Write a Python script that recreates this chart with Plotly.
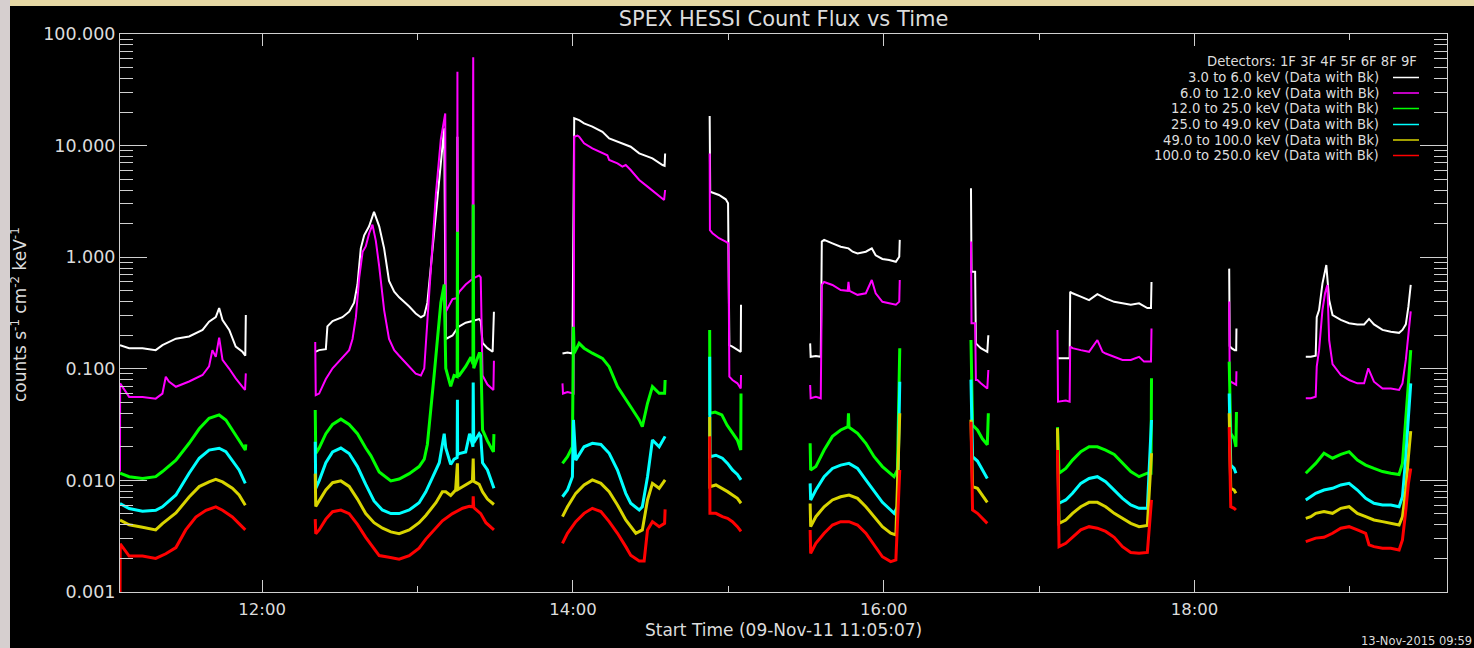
import plotly.graph_objects as go

DATE = "2011-11-09"

# ---- data (time HH:MM:SS, counts s^-1 cm^-2 keV^-1); one inner list per data interval
WHITE = [
    [("11:05:07", 0.163), ("11:08:39", 0.153), ("11:13:48", 0.153), ("11:18:54", 0.147), ("11:21:30", 0.163),
     ("11:26:42", 0.186), ("11:31:48", 0.195), ("11:37:00", 0.223), ("11:39:30", 0.264), ("11:42:06", 0.29),
     ("11:43:24", 0.35), ("11:44:42", 0.274), ("11:47:18", 0.223), ("11:49:48", 0.158), ("11:52:24", 0.142),
     ("11:53:30", 0.131), ("11:53:42", 0.303)],
    [("12:20:30", 0.142), ("12:22:00", 0.147), ("12:24:36", 0.150), ("12:25:12", 0.240), ("12:27:12", 0.268),
     ("12:31:00", 0.290), ("12:33:36", 0.325), ("12:35:30", 0.391), ("12:36:48", 0.569), ("12:38:06", 1.20),
     ("12:39:24", 1.57), ("12:41:18", 1.89), ("12:43:12", 2.55), ("12:45:12", 1.89), ("12:47:06", 1.20),
     ("12:49:00", 0.613), ("12:51:00", 0.490), ("12:52:54", 0.437), ("12:56:48", 0.362), ("12:59:18", 0.313),
     ("13:01:18", 0.290), ("13:02:36", 0.301), ("13:03:48", 0.391), ("13:05:06", 0.828), ("13:07:06", 2.55),
     ("13:09:00", 7.85), ("13:10:18", 14.3), ("13:10:54", 0.185), ("13:13:30", 0.199), ("13:15:18", 0.23),
     ("13:15:24", 12.0), ("13:15:30", 0.235), ("13:16:06", 0.240), ("13:18:36", 0.259), ("13:21:12", 0.268),
     ("13:23:48", 0.279), ("13:24:24", 0.268), ("13:25:06", 0.171), ("13:27:00", 0.153), ("13:29:00", 0.142),
     ("13:29:30", 0.325)],
    [("13:55:58", 0.137), ("13:57:54", 0.14), ("13:59:48", 0.137), ("14:00:30", 17.6), ("14:02:24", 16.9),
     ("14:04:18", 15.8), ("14:07:30", 14.8), ("14:11:24", 13.3), ("14:14:00", 11.6), ("14:17:12", 10.8),
     ("14:20:24", 10.1), ("14:22:18", 9.77), ("14:25:36", 8.53), ("14:30:42", 7.69), ("14:34:36", 6.70),
     ("14:35:24", 6.6), ("14:35:36", 8.5)],
    [("14:52:48", 18.4), ("14:53:00", 3.86), ("14:56:24", 3.61), ("14:59:00", 3.3), ("14:59:54", 3.04),
     ("15:00:24", 0.163), ("15:01:36", 0.158), ("15:03:30", 0.147), ("15:04:48", 0.142), ("15:04:54", 0.375)],
    [("15:31:36", 0.169), ("15:31:48", 0.128), ("15:33:48", 0.13), ("15:35:42", 0.128), ("15:36:06", 1.38),
     ("15:37:00", 1.43), ("15:40:12", 1.33), ("15:43:24", 1.24), ("15:46:24", 1.20), ("15:48:00", 1.12),
     ("15:49:54", 1.08), ("15:53:06", 1.12), ("15:55:24", 1.20), ("15:56:54", 1.04), ("15:59:30", 0.964),
     ("16:02:06", 0.944), ("16:04:42", 0.91), ("16:06:00", 1.01), ("16:06:12", 1.43)],
    [("16:33:42", 4.14), ("16:33:54", 0.741), ("16:35:18", 0.741), ("16:35:36", 0.169), ("16:37:30", 0.153),
     ("16:40:00", 0.142), ("16:40:24", 0.2)],
    [("17:07:06", 0.124), ("17:10:18", 0.124), ("17:11:48", 0.124), ("17:12:00", 0.49), ("17:12:54", 0.475),
     ("17:16:06", 0.443), ("17:19:18", 0.413), ("17:22:30", 0.467), ("17:24:30", 0.44), ("17:25:42", 0.428),
     ("17:29:00", 0.398), ("17:32:12", 0.386), ("17:35:24", 0.375), ("17:38:36", 0.386), ("17:41:48", 0.35),
     ("17:43:12", 0.35), ("17:43:24", 0.60)],
    [("18:13:24", 0.79), ("18:13:36", 0.16), ("18:14:18", 0.153), ("18:15:30", 0.147), ("18:16:06", 0.147),
     ("18:16:12", 0.23)],
    [("18:42:58", 0.128), ("18:44:54", 0.128), ("18:46:48", 0.131), ("18:47:12", 0.29), ("18:48:06", 0.336),
     ("18:49:24", 0.58), ("18:50:54", 0.85), ("18:52:00", 0.413), ("18:53:18", 0.303), ("18:56:30", 0.274),
     ("18:59:42", 0.256), ("19:02:54", 0.25), ("19:05:30", 0.25), ("19:07:24", 0.28), ("19:09:18", 0.25),
     ("19:12:36", 0.223), ("19:15:48", 0.215), ("19:19:00", 0.21), ("19:20:18", 0.223), ("19:21:36", 0.25),
     ("19:22:36", 0.36), ("19:23:30", 0.564)],
]

MAGENTA = [
    [("11:05:07", 0.012), ("11:05:10", 0.074), ("11:08:39", 0.056), ("11:13:48", 0.056), ("11:18:54", 0.054),
     ("11:21:30", 0.060), ("11:22:48", 0.085), ("11:24:00", 0.077), ("11:26:42", 0.069), ("11:31:48", 0.077),
     ("11:37:00", 0.088), ("11:39:30", 0.105), ("11:40:48", 0.147), ("11:42:06", 0.128), ("11:43:24", 0.19),
     ("11:44:42", 0.12), ("11:47:18", 0.10), ("11:49:48", 0.082), ("11:52:24", 0.069), ("11:53:24", 0.0646),
     ("11:53:42", 0.091)],
    [("12:20:30", 0.174), ("12:20:42", 0.058), ("12:22:00", 0.060), ("12:24:36", 0.081), ("12:27:12", 0.101),
     ("12:31:00", 0.127), ("12:33:36", 0.147), ("12:34:54", 0.185), ("12:36:12", 0.290), ("12:37:30", 0.661),
     ("12:38:48", 1.12), ("12:40:00", 1.25), ("12:41:18", 1.63), ("12:42:36", 1.96), ("12:43:54", 1.40),
     ("12:45:12", 0.828), ("12:47:06", 0.336), ("12:49:00", 0.185), ("12:51:00", 0.147), ("12:52:54", 0.131),
     ("12:56:48", 0.105), ("12:59:18", 0.0905), ("13:01:18", 0.0871), ("13:02:36", 0.101), ("13:03:48", 0.268),
     ("13:05:06", 0.828), ("13:07:06", 3.72), ("13:09:00", 11.4), ("13:10:42", 19.4), ("13:10:54", 0.325),
     ("13:13:30", 0.422), ("13:15:18", 0.43), ("13:15:24", 45.8), ("13:15:30", 0.45), ("13:16:06", 0.490),
     ("13:18:36", 0.569), ("13:21:12", 0.637), ("13:21:30", 61.8), ("13:21:42", 0.65), ("13:23:48", 0.686),
     ("13:24:24", 0.661), ("13:25:06", 0.0871), ("13:27:00", 0.0723), ("13:29:18", 0.0646), ("13:29:30", 0.118)],
    [("13:55:58", 0.074), ("13:56:10", 0.060), ("13:57:54", 0.062), ("13:59:48", 0.060), ("14:00:18", 0.060),
     ("14:00:30", 12.0), ("14:01:45", 12.3), ("14:02:24", 12.0), ("14:04:18", 10.5), ("14:07:30", 9.46),
     ("14:11:24", 8.53), ("14:13:18", 8.2), ("14:14:00", 7.43), ("14:17:12", 6.93), ("14:19:06", 6.47),
     ("14:20:24", 6.7), ("14:22:18", 6.04), ("14:25:36", 4.92), ("14:28:48", 4.29), ("14:32:00", 3.74),
     ("14:35:12", 3.26), ("14:35:36", 4.0)],
    [("14:52:48", 8.5), ("14:52:54", 1.75), ("14:53:54", 1.64), ("14:56:24", 1.48), ("14:59:00", 1.38),
     ("15:00:03", 1.33), ("15:00:24", 0.085), ("15:01:36", 0.0794), ("15:03:30", 0.0741), ("15:04:48", 0.0665),
     ("15:04:54", 0.088)],
    [("15:31:36", 0.0716), ("15:31:48", 0.0544), ("15:33:48", 0.056), ("15:35:42", 0.0544), ("15:36:06", 0.564),
     ("15:37:00", 0.60), ("15:40:12", 0.564), ("15:43:24", 0.508), ("15:46:06", 0.50), ("15:46:24", 0.60),
     ("15:46:48", 0.50), ("15:49:54", 0.46), ("15:53:06", 0.475), ("15:55:24", 0.625), ("15:56:54", 0.475),
     ("15:59:30", 0.398), ("16:02:06", 0.386), ("16:04:42", 0.375), ("16:06:00", 0.40), ("16:06:12", 0.625)],
    [("16:33:42", 1.38), ("16:33:54", 0.256), ("16:35:18", 0.256), ("16:35:36", 0.0794), ("16:36:12", 0.0794),
     ("16:37:30", 0.0741), ("16:40:00", 0.0665), ("16:40:24", 0.0976)],
    [("17:07:06", 0.223), ("17:07:18", 0.0508), ("17:10:18", 0.052), ("17:11:48", 0.0508), ("17:12:00", 0.158),
     ("17:12:54", 0.153), ("17:16:06", 0.147), ("17:19:18", 0.142), ("17:22:30", 0.181), ("17:24:30", 0.142),
     ("17:25:42", 0.137), ("17:29:00", 0.128), ("17:32:12", 0.12), ("17:35:24", 0.12), ("17:38:36", 0.128),
     ("17:40:30", 0.116), ("17:43:12", 0.116), ("17:43:24", 0.23)],
    [("18:13:24", 0.40), ("18:13:36", 0.0794), ("18:14:00", 0.0766), ("18:15:18", 0.0741), ("18:16:06", 0.072),
     ("18:16:12", 0.095)],
    [("18:42:58", 0.0544), ("18:44:54", 0.0544), ("18:46:48", 0.0562), ("18:47:12", 0.1045), ("18:48:06", 0.147),
     ("18:49:24", 0.336), ("18:50:24", 0.475), ("18:51:18", 0.564), ("18:52:00", 0.181), ("18:53:18", 0.11),
     ("18:56:30", 0.0879), ("18:59:42", 0.0794), ("19:02:54", 0.0741), ("19:05:30", 0.0741), ("19:07:06", 0.101),
     ("19:09:18", 0.0766), ("19:12:36", 0.0665), ("19:15:48", 0.0665), ("19:19:00", 0.0646), ("19:20:18", 0.0741),
     ("19:21:36", 0.12), ("19:22:36", 0.21), ("19:23:30", 0.327)],
]

GREEN = [
    [("11:05:07", 0.0116), ("11:08:39", 0.0108), ("11:13:48", 0.0104), ("11:18:54", 0.0108), ("11:21:30", 0.012),
     ("11:26:42", 0.0152), ("11:31:48", 0.0215), ("11:35:42", 0.029), ("11:39:30", 0.036), ("11:43:24", 0.0386),
     ("11:46:00", 0.0348), ("11:48:30", 0.0283), ("11:51:06", 0.023), ("11:53:30", 0.0187), ("11:53:42", 0.021)],
    [("12:20:30", 0.0427), ("12:20:42", 0.0174), ("12:22:00", 0.0195), ("12:24:36", 0.0262), ("12:27:12", 0.0317),
     ("12:30:24", 0.0354), ("12:33:36", 0.0317), ("12:36:48", 0.0262), ("12:40:00", 0.0195), ("12:41:58", 0.0167),
     ("12:45:12", 0.0119), ("12:47:48", 0.0107), ("12:49:42", 0.0099), ("12:52:54", 0.0103), ("12:56:48", 0.0115),
     ("13:00:36", 0.0133), ("13:02:36", 0.0155), ("13:03:48", 0.0210), ("13:05:06", 0.0412), ("13:06:24", 0.0871),
     ("13:07:42", 0.185), ("13:09:00", 0.391), ("13:10:18", 0.569), ("13:10:54", 0.101), ("13:12:48", 0.0695),
     ("13:14:06", 0.0871), ("13:15:18", 0.085), ("13:15:24", 1.69), ("13:15:30", 0.088), ("13:16:06", 0.0871),
     ("13:18:36", 0.105), ("13:20:36", 0.127), ("13:21:24", 0.11), ("13:21:30", 2.97), ("13:21:42", 0.101),
     ("13:23:48", 0.137), ("13:24:24", 0.137), ("13:25:06", 0.0283), ("13:27:00", 0.0226), ("13:29:18", 0.018),
     ("13:29:30", 0.026)],
    [("13:55:58", 0.0142), ("13:57:54", 0.0163), ("13:59:48", 0.0200), ("14:00:12", 0.238), ("14:00:30", 0.138),
     ("14:02:24", 0.169), ("14:04:18", 0.153), ("14:07:30", 0.138), ("14:11:24", 0.124), ("14:14:00", 0.1045),
     ("14:17:12", 0.0692), ("14:20:24", 0.0525), ("14:22:18", 0.0457), ("14:25:36", 0.0348), ("14:26:48", 0.0303),
     ("14:28:48", 0.0491), ("14:30:42", 0.0692), ("14:33:18", 0.0603), ("14:35:24", 0.0603), ("14:35:36", 0.0794)],
    [("14:52:48", 0.223), ("14:52:54", 0.0399), ("14:54:54", 0.041), ("14:57:30", 0.0386), ("14:59:30", 0.0313),
     ("15:01:36", 0.0264), ("15:03:30", 0.023), ("15:04:48", 0.0187), ("15:04:54", 0.06)],
    [("15:31:36", 0.0215), ("15:31:48", 0.0124), ("15:33:48", 0.0133), ("15:37:00", 0.0187), ("15:40:12", 0.0248),
     ("15:43:24", 0.0283), ("15:46:12", 0.0303), ("15:46:24", 0.04), ("15:46:36", 0.03), ("15:49:54", 0.0264),
     ("15:53:06", 0.0215), ("15:56:18", 0.0163), ("15:59:30", 0.0133), ("16:02:42", 0.0113), ("16:04:00", 0.0108),
     ("16:05:18", 0.0124), ("16:06:12", 0.153)],
    [("16:33:42", 0.181), ("16:34:18", 0.0313), ("16:36:12", 0.0283), ("16:38:06", 0.0236), ("16:40:00", 0.0209),
     ("16:40:24", 0.04)],
    [("17:07:06", 0.03), ("17:07:42", 0.0116), ("17:10:18", 0.0128), ("17:12:54", 0.0152), ("17:16:06", 0.0181),
     ("17:19:18", 0.0200), ("17:22:30", 0.0200), ("17:25:42", 0.0187), ("17:29:00", 0.0171), ("17:32:12", 0.0142),
     ("17:35:24", 0.012), ("17:38:36", 0.0108), ("17:41:48", 0.0116), ("17:43:12", 0.0116), ("17:43:24", 0.0822)],
    [("18:13:24", 0.116), ("18:14:00", 0.0264), ("18:15:18", 0.0236), ("18:16:00", 0.02), ("18:16:12", 0.041)],
    [("18:42:58", 0.0116), ("18:44:54", 0.0128), ("18:46:48", 0.0142), ("18:50:00", 0.0175), ("18:53:18", 0.0158),
     ("18:56:30", 0.0171), ("18:59:42", 0.0181), ("19:02:54", 0.0152), ("19:06:06", 0.0137), ("19:09:18", 0.0128),
     ("19:12:36", 0.012), ("19:15:48", 0.0116), ("19:19:00", 0.0113), ("19:20:18", 0.0142), ("19:21:36", 0.0335),
     ("19:22:36", 0.0741), ("19:23:30", 0.147)],
]

CYAN = [
    [("11:05:07", 0.0062), ("11:08:39", 0.0056), ("11:13:48", 0.0053), ("11:18:54", 0.0054), ("11:21:30", 0.0058),
     ("11:26:42", 0.0074), ("11:31:48", 0.0116), ("11:35:42", 0.0158), ("11:39:30", 0.0187), ("11:43:24", 0.0194),
     ("11:46:00", 0.0181), ("11:48:30", 0.0152), ("11:51:06", 0.0124), ("11:53:30", 0.0094)],
    [("12:20:30", 0.0222), ("12:20:42", 0.0085), ("12:22:00", 0.0099), ("12:24:36", 0.0144), ("12:27:12", 0.0180),
     ("12:30:24", 0.0195), ("12:33:36", 0.0174), ("12:36:48", 0.0133), ("12:40:00", 0.0092), ("12:43:12", 0.00655),
     ("12:46:24", 0.00543), ("12:49:42", 0.00504), ("12:52:54", 0.00504), ("12:56:48", 0.00543), ("13:00:36", 0.00631),
     ("13:03:12", 0.0079), ("13:05:48", 0.01066), ("13:08:24", 0.0144), ("13:10:18", 0.0262), ("13:10:54", 0.0195),
     ("13:12:48", 0.0139), ("13:14:06", 0.0155), ("13:15:18", 0.016), ("13:15:24", 0.0528), ("13:15:30", 0.017),
     ("13:16:06", 0.0174), ("13:18:36", 0.0180), ("13:20:06", 0.0262), ("13:21:24", 0.02), ("13:21:30", 0.0755),
     ("13:21:42", 0.0218), ("13:23:48", 0.0262), ("13:24:24", 0.025), ("13:25:06", 0.0144), ("13:27:00", 0.0124),
     ("13:29:30", 0.0085)],
    [("13:55:58", 0.00714), ("13:57:54", 0.0082), ("13:59:48", 0.0108), ("14:00:12", 0.0348), ("14:01:06", 0.0152),
     ("14:04:18", 0.0200), ("14:07:30", 0.0215), ("14:10:48", 0.021), ("14:14:00", 0.0175), ("14:17:12", 0.0124),
     ("14:20:24", 0.00766), ("14:22:18", 0.00624), ("14:25:36", 0.00543), ("14:26:48", 0.00581), ("14:28:48", 0.0108),
     ("14:30:42", 0.023), ("14:33:18", 0.0200), ("14:35:36", 0.0248)],
    [("14:52:48", 0.128), ("14:52:54", 0.0163), ("14:55:12", 0.0168), ("14:57:42", 0.0158), ("14:59:42", 0.0142),
     ("15:01:36", 0.0124), ("15:03:30", 0.0113), ("15:04:54", 0.0101)],
    [("15:31:36", 0.0094), ("15:31:48", 0.00668), ("15:33:48", 0.0082), ("15:37:00", 0.0108), ("15:40:12", 0.0128),
     ("15:43:24", 0.0137), ("15:46:36", 0.0142), ("15:49:54", 0.0128), ("15:53:06", 0.0101), ("15:56:18", 0.00793),
     ("15:59:30", 0.00636), ("16:02:42", 0.00543), ("16:04:00", 0.00507), ("16:05:18", 0.00581), ("16:06:12", 0.0766)],
    [("16:33:42", 0.08), ("16:34:18", 0.0163), ("16:36:12", 0.0149), ("16:38:06", 0.0124), ("16:40:00", 0.0104)],
    [("17:07:42", 0.00624), ("17:10:18", 0.00668), ("17:12:54", 0.00766), ("17:16:06", 0.0094), ("17:19:18", 0.0104),
     ("17:22:30", 0.0108), ("17:25:42", 0.00973), ("17:29:00", 0.0082), ("17:32:12", 0.0069), ("17:35:24", 0.00603),
     ("17:38:36", 0.00562), ("17:41:48", 0.00562), ("17:43:24", 0.0348)],
    [("18:13:24", 0.06), ("18:14:00", 0.0137), ("18:15:18", 0.0128), ("18:16:00", 0.0116)],
    [("18:42:58", 0.00668), ("18:44:54", 0.00714), ("18:46:48", 0.00766), ("18:50:00", 0.0082), ("18:53:18", 0.00849),
     ("18:56:30", 0.0091), ("18:59:42", 0.0094), ("19:02:54", 0.0082), ("19:06:06", 0.0069), ("19:09:18", 0.00624),
     ("19:12:36", 0.00603), ("19:15:48", 0.00603), ("19:19:00", 0.00581), ("19:20:18", 0.00714), ("19:21:36", 0.0163),
     ("19:22:36", 0.0371), ("19:23:30", 0.0741)],
]

YELLOW = [
    [("11:05:07", 0.0044), ("11:08:39", 0.0040), ("11:13:48", 0.0038), ("11:18:54", 0.0036), ("11:21:30", 0.0041),
     ("11:26:42", 0.0051), ("11:31:48", 0.0071), ("11:35:42", 0.0088), ("11:39:30", 0.0097), ("11:42:06", 0.0102),
     ("11:44:42", 0.0097), ("11:48:30", 0.0085), ("11:51:06", 0.0074), ("11:53:30", 0.0060)],
    [("12:20:30", 0.0115), ("12:20:42", 0.00585), ("12:22:00", 0.00655), ("12:24:36", 0.0082), ("12:27:12", 0.00953),
     ("12:30:24", 0.0099), ("12:33:36", 0.00883), ("12:36:48", 0.0068), ("12:40:00", 0.00504), ("12:43:12", 0.00418),
     ("12:46:30", 0.00373), ("12:49:42", 0.00346), ("12:52:54", 0.00333), ("12:56:48", 0.0036), ("13:00:36", 0.00418),
     ("13:03:12", 0.00485), ("13:07:06", 0.00631), ("13:09:36", 0.0079), ("13:10:54", 0.0079), ("13:12:48", 0.00733),
     ("13:14:42", 0.0082), ("13:15:24", 0.0142), ("13:15:36", 0.0083), ("13:18:36", 0.0092), ("13:21:12", 0.0099),
     ("13:21:30", 0.0157), ("13:21:42", 0.0098), ("13:23:48", 0.0092), ("13:25:06", 0.0079), ("13:27:00", 0.0068),
     ("13:29:30", 0.00608)],
    [("13:55:58", 0.00473), ("13:57:54", 0.00581), ("14:01:06", 0.00766), ("14:04:18", 0.0091), ("14:07:30", 0.0101),
     ("14:10:48", 0.0094), ("14:14:00", 0.00793), ("14:17:12", 0.00603), ("14:20:24", 0.00442), ("14:22:18", 0.00385),
     ("14:24:18", 0.00336), ("14:26:48", 0.0036), ("14:28:48", 0.00668), ("14:30:42", 0.0094), ("14:33:18", 0.00849),
     ("14:35:36", 0.0101)],
    [("14:52:48", 0.037), ("14:52:54", 0.00879), ("14:55:12", 0.0091), ("14:57:42", 0.00849), ("14:59:42", 0.00793),
     ("15:01:36", 0.0074), ("15:03:30", 0.0069), ("15:04:54", 0.00624)],
    [("15:31:36", 0.0062), ("15:31:48", 0.00385), ("15:33:48", 0.00473), ("15:37:00", 0.00581), ("15:40:12", 0.00668),
     ("15:43:24", 0.00714), ("15:46:36", 0.0074), ("15:49:54", 0.0069), ("15:53:06", 0.00581), ("15:56:18", 0.00473),
     ("15:59:30", 0.00385), ("16:02:42", 0.00336), ("16:04:42", 0.00324), ("16:06:12", 0.04)],
    [("16:33:42", 0.035), ("16:34:18", 0.00879), ("16:36:12", 0.00849), ("16:38:06", 0.0074), ("16:40:00", 0.00636)],
    [("17:07:06", 0.0293), ("17:07:42", 0.00412), ("17:10:18", 0.00442), ("17:12:54", 0.00507), ("17:16:06", 0.00581),
     ("17:19:18", 0.00636), ("17:22:30", 0.00636), ("17:25:42", 0.00581), ("17:29:00", 0.00507), ("17:32:12", 0.00457),
     ("17:35:24", 0.00412), ("17:38:36", 0.00385), ("17:41:48", 0.00395), ("17:43:24", 0.0175)],
    [("18:13:24", 0.04), ("18:14:00", 0.00849), ("18:15:18", 0.0082), ("18:16:00", 0.00766)],
    [("18:42:58", 0.00457), ("18:44:54", 0.00473), ("18:46:48", 0.00507), ("18:50:00", 0.00525), ("18:53:18", 0.00507),
     ("18:56:30", 0.00562), ("18:59:42", 0.00581), ("19:02:54", 0.00507), ("19:06:06", 0.00473), ("19:09:18", 0.00442),
     ("19:12:36", 0.00427), ("19:15:48", 0.00412), ("19:19:00", 0.00398), ("19:20:18", 0.00473), ("19:21:36", 0.0082),
     ("19:22:36", 0.0163), ("19:23:30", 0.0277)],
]

RED = [
    [("11:05:07", 0.001), ("11:05:12", 0.0027), ("11:08:39", 0.0021), ("11:13:48", 0.0021), ("11:18:54", 0.0020),
     ("11:22:48", 0.0022), ("11:26:42", 0.0025), ("11:30:30", 0.0036), ("11:34:24", 0.0047), ("11:38:18", 0.0054),
     ("11:42:06", 0.0058), ("11:44:42", 0.0054), ("11:48:30", 0.0047), ("11:51:06", 0.0041), ("11:53:30", 0.0036)],
    [("12:20:30", 0.0045), ("12:20:42", 0.00333), ("12:22:00", 0.0036), ("12:24:36", 0.0045), ("12:27:12", 0.00524),
     ("12:30:24", 0.00543), ("12:33:36", 0.00504), ("12:36:48", 0.00403), ("12:40:00", 0.00309), ("12:43:12", 0.00247),
     ("12:45:12", 0.00212), ("12:49:00", 0.00205), ("12:52:54", 0.00197), ("12:56:48", 0.00212), ("13:00:36", 0.00247),
     ("13:03:12", 0.00298), ("13:07:06", 0.00373), ("13:09:36", 0.00434), ("13:13:30", 0.00504), ("13:17:24", 0.00563),
     ("13:20:00", 0.00585), ("13:21:24", 0.0058), ("13:21:30", 0.0072), ("13:21:42", 0.0057), ("13:24:24", 0.00504),
     ("13:26:24", 0.00418), ("13:29:30", 0.0036)],
    [("13:55:58", 0.00273), ("13:57:54", 0.00336), ("14:01:06", 0.00427), ("14:04:18", 0.00507), ("14:07:30", 0.00562),
     ("14:10:48", 0.00525), ("14:14:00", 0.00427), ("14:17:12", 0.00336), ("14:20:24", 0.00255), ("14:22:18", 0.00214),
     ("14:25:36", 0.0019), ("14:27:30", 0.0019), ("14:28:48", 0.0036), ("14:30:42", 0.00427), ("14:33:18", 0.00385),
     ("14:35:24", 0.00412), ("14:35:36", 0.0055)],
    [("14:52:48", 0.0248), ("14:52:54", 0.00507), ("14:55:12", 0.00507), ("14:57:42", 0.00473), ("14:59:42", 0.00457),
     ("15:01:36", 0.00427), ("15:03:30", 0.00385), ("15:04:54", 0.00349)],
    [("15:31:36", 0.0036), ("15:31:48", 0.00222), ("15:33:48", 0.00273), ("15:37:00", 0.00336), ("15:40:12", 0.00398),
     ("15:43:24", 0.00427), ("15:46:36", 0.00427), ("15:49:54", 0.00398), ("15:53:06", 0.00336), ("15:56:18", 0.00264),
     ("15:59:30", 0.00207), ("16:02:42", 0.00187), ("16:04:42", 0.00194), ("16:06:12", 0.0124)],
    [("16:33:42", 0.0335), ("16:34:18", 0.00543), ("16:36:12", 0.00507), ("16:38:06", 0.00457), ("16:40:00", 0.00412)],
    [("17:07:06", 0.0187), ("17:07:42", 0.00255), ("17:10:18", 0.00273), ("17:12:54", 0.00309), ("17:16:06", 0.0036),
     ("17:19:18", 0.00385), ("17:22:30", 0.00373), ("17:25:42", 0.00349), ("17:29:00", 0.00309), ("17:32:12", 0.00255),
     ("17:35:24", 0.00226), ("17:38:36", 0.00222), ("17:41:48", 0.00226), ("17:43:24", 0.0067)],
    [("18:13:24", 0.03), ("18:14:00", 0.00581), ("18:15:18", 0.00562), ("18:16:00", 0.00543)],
    [("18:42:58", 0.00283), ("18:44:54", 0.00293), ("18:46:48", 0.00304), ("18:50:00", 0.00309), ("18:53:18", 0.00336),
     ("18:56:30", 0.00373), ("18:59:42", 0.00385), ("19:02:54", 0.0036), ("19:06:06", 0.00336), ("19:07:24", 0.00264),
     ("19:09:18", 0.00255), ("19:12:36", 0.00247), ("19:15:48", 0.00247), ("19:19:00", 0.00238), ("19:20:18", 0.00293),
     ("19:21:36", 0.00543), ("19:22:36", 0.0094), ("19:23:30", 0.0128)],
]

BAND_LABELS = ["3.0 to 6.0 keV (Data with Bk)", "6.0 to 12.0 keV (Data with Bk)",
               "12.0 to 25.0 keV (Data with Bk)", "25.0 to 49.0 keV (Data with Bk)",
               "49.0 to 100.0 keV (Data with Bk)", "100.0 to 250.0 keV (Data with Bk)"]
BAND_SERIES = [WHITE, MAGENTA, GREEN, CYAN, YELLOW, RED]
BAND_COLORS = ["#ffffff", "#ff00ff", "#00ff00", "#00ffff", "#d8d400", "#ff0000"]
BAND_WIDTHS = [2.0, 2.0, 3.0, 3.0, 3.0, 3.0]

TITLE = "SPEX HESSI Count Flux vs Time"
XTITLE = "Start Time (09-Nov-11 11:05:07)"
YTITLE = "counts s<sup>-1</sup> cm<sup>-2</sup> keV<sup>-1</sup>"
DETECTORS = "Detectors: 1F 3F 4F 5F 6F 8F 9F"
STAMP = "13-Nov-2015 09:59"

# ---- layout geometry (pixels)
W, H = 1474, 648
L, R, T, B = 120, 1447, 34, 592
AX = "#d0d0d0"
TXT = "#dcdcdc"
FONT = "DejaVu Sans"
LEG_SIZE = 13.2


def px(x):
    return (x - L) / (R - L)


def py(y):
    return (B - y) / (B - T)


def flatten(segs):
    xs, ys = [], []
    for i, seg in enumerate(segs):
        if i:
            xs.append(None)
            ys.append(None)
        for t, v in seg:
            xs.append(f"{DATE} {t}")
            ys.append(v)
    return xs, ys


fig = go.Figure()
for label, segs, col, lw in zip(BAND_LABELS, BAND_SERIES, BAND_COLORS, BAND_WIDTHS):
    xs, ys = flatten(segs)
    fig.add_trace(go.Scatter(x=xs, y=ys, mode="lines", name=label,
                             line=dict(color=col, width=lw), connectgaps=False))

fig.update_layout(
    width=W, height=H,
    margin=dict(l=L, r=W - R, t=T, b=H - B),
    paper_bgcolor="black", plot_bgcolor="black",
    showlegend=False,
    font=dict(family=FONT, color=TXT),
    title=dict(text=TITLE, x=0.5, xref="paper", xanchor="center",
               y=1 - 19 / H, yref="container", yanchor="middle",
               font=dict(size=21, color=TXT, family=FONT)),
)

fig.update_xaxes(
    type="date",
    range=[f"{DATE} 11:05:07", f"{DATE} 19:37:30"],
    tick0=f"{DATE} 12:00:00", dtick=2 * 3600 * 1000, tickformat="%H:%M",
    ticks="inside", ticklen=12, tickcolor=AX, tickwidth=1,
    showline=True, linecolor=AX, linewidth=1, mirror="ticks",
    showgrid=False, zeroline=False,
    tickfont=dict(size=16.5, color=TXT, family=FONT),
    ticklabelstandoff=2,
    minor=dict(tick0=f"{DATE} 11:00:00", dtick=3600 * 1000, ticks="inside",
               ticklen=6, tickcolor=AX, showgrid=False),
)

fig.update_yaxes(
    type="log", range=[-3, 2], dtick=1, tickformat=".3f",
    ticks="inside", ticklen=27, tickcolor=AX, tickwidth=1,
    showline=True, linecolor=AX, linewidth=1, mirror="ticks",
    showgrid=False, zeroline=False,
    tickfont=dict(size=17.5, color=TXT, family=FONT),
    minor=dict(dtick="D1", ticks="inside", ticklen=13, tickcolor=AX, showgrid=False),
)

ann = []
ann.append(dict(text=XTITLE, x=0.5, y=py(630), xref="paper", yref="paper",
                xanchor="center", yanchor="middle", showarrow=False,
                font=dict(size=17, color=TXT, family=FONT)))
ann.append(dict(text=YTITLE, x=px(19), y=py(315), xref="paper", yref="paper",
                xanchor="center", yanchor="middle", textangle=-90, showarrow=False,
                font=dict(size=17, color=TXT, family=FONT)))
ann.append(dict(text=STAMP, x=px(1474), y=py(641), xref="paper", yref="paper",
                xanchor="right", yanchor="middle", showarrow=False,
                font=dict(size=11.5, color=TXT, family=FONT)))

# legend block (text right-aligned, line sample to its right)
ann.append(dict(text=DETECTORS, x=px(1419), y=py(61.7), xref="paper", yref="paper",
                xanchor="right", yanchor="middle", showarrow=False,
                font=dict(size=LEG_SIZE, color=TXT, family=FONT)))
rows = [77.5, 93.0, 108.5, 124.5, 140.0, 155.5]
shapes = []
for label, col, yy in zip(BAND_LABELS, BAND_COLORS, rows):
    ann.append(dict(text=label, x=px(1381), y=py(yy), xref="paper", yref="paper",
                    xanchor="right", yanchor="middle", showarrow=False,
                    font=dict(size=LEG_SIZE, color=TXT, family=FONT)))
    shapes.append(dict(type="line", xref="paper", yref="paper",
                       x0=px(1393), x1=px(1419), y0=py(yy), y1=py(yy),
                       line=dict(color=col, width=1.5)))

# screenshot window frame strips
shapes.append(dict(type="rect", xref="paper", yref="paper", x0=px(0), x1=px(W), y0=py(6), y1=py(0),
                   fillcolor="#e6d8a4", line=dict(width=0), layer="below"))
shapes.append(dict(type="rect", xref="paper", yref="paper", x0=px(0), x1=px(10), y0=py(H), y1=py(0),
                   fillcolor="#d6cfcf", line=dict(width=0), layer="below"))

fig.update_layout(annotations=ann, shapes=shapes)
fig.write_html("out.html")
